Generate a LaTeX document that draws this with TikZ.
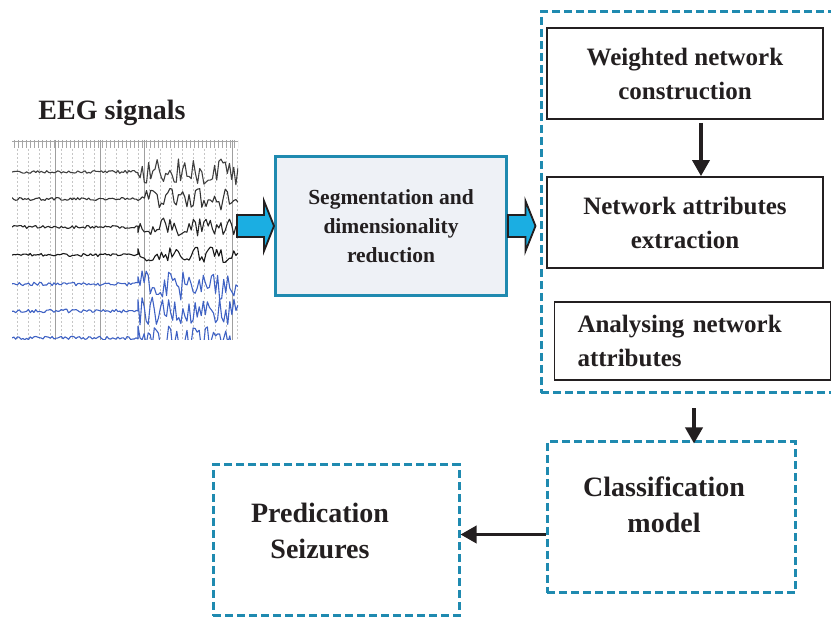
\documentclass[tikz,border=0pt]{standalone}
\usepackage{fontspec}
\setmainfont{Liberation Serif}
\usetikzlibrary{calc,arrows.meta}
\definecolor{tealc}{HTML}{1F8AB0}
\definecolor{txtc}{HTML}{231F20}
\definecolor{segfill}{HTML}{EEF1F6}
\definecolor{arrblue}{HTML}{1BAEE2}
\definecolor{eegblue}{HTML}{3F62C4}
\newcommand\fatarrow[2]{%
  \draw[fatarr] ($(#1)+(0,-11)$) -- ($(#2)+(-10,-11)$) -- ($(#2)+(-10,-25)$) -- (#2)
    -- ($(#2)+(-10,25)$) -- ($(#2)+(-10,11)$) -- ($(#1)+(0,11)$) -- cycle;}
\begin{document}
\begin{tikzpicture}[x=1pt,y=-1pt,
  txt/.style={inner sep=0pt, align=center, text=txtc, font=\bfseries\fontsize{25}{34}\selectfont},
  box/.style={txt, draw=txtc, line width=1.8pt, minimum width=276pt, minimum height=91pt},
  dbox/.style={draw=tealc, line width=3pt, dash pattern=on 8pt off 4pt, inner sep=0pt},
  blk/.style={line width=3.6pt, draw=txtc, -{Triangle[width=17pt,length=16pt]}},
  fatarr/.style={fill=arrblue, draw=txtc, line width=1.8pt, line join=miter},
  trace/.style={line width=1.1pt, line join=round},
]
\useasboundingbox (0,0) rectangle (831,617);

% EEG signals image
\node[txt, font=\bfseries\fontsize{28}{34}\selectfont, anchor=base] (eegtitle) at (112,120) {EEG signals};
\begin{scope}
  \clip (12,140) rectangle (238,340);
  \foreach \x in {17,28,...,238}
    \draw[gray!45, dash pattern=on 2pt off 2pt, line width=0.7pt] (\x,149) -- (\x,340);
  \foreach \x in {14,18,...,238}
    \draw[gray!70, line width=0.7pt] (\x,140) -- (\x,148);
  \draw[gray!70, line width=0.7pt] (12,141) -- (238,141);
  \foreach \x in {55,100,144,232}
    \draw[gray!75, line width=0.9pt] (\x,140) -- (\x,340);
  \pgfmathsetseed{11}
  \foreach \y/\a/\c in {172/13/black!75, 199/11/black!80, 227/9/black!85, 255/8/black!90}{
    \draw[trace, \c] plot[domain=12:138, samples=70] (\x,{\y+1.5*rand})
      -- plot[domain=138:238, samples=48] (\x,{\y+\a*rand});
  }
  \foreach \y/\a in {284/16, 311/14, 338/12}{
    \draw[trace, eegblue] plot[domain=12:138, samples=70] (\x,{\y+1.8*rand})
      -- plot[domain=138:238, samples=50] (\x,{\y+\a*rand});
  }
\end{scope}
\coordinate (eegR) at (237,226);

% segmentation box
\node[txt, draw=tealc, fill=segfill, line width=3pt, minimum width=231pt, minimum height=139pt,
      font=\bfseries\fontsize{21.5}{29}\selectfont] (seg) at (391,226)
      {Segmentation and\\dimensionality\\reduction};

% group dashed box (right side runs off the picture)
\node[dbox, minimum width=293pt, minimum height=381pt] (grp) at (687.5,202.5) {};

\node[box] (w) at (685,73.5) {Weighted network\\construction};
\node[box] (na) at (685,222.5) {Network attributes\\extraction};
\node[box, align=left, text width=230pt, inner xsep=23pt, minimum height=78pt] (an) at (692.5,341)
      {Analysing network\\attributes};

% classification and prediction
\node[dbox, minimum width=248pt, minimum height=151pt] (class) at (671,517.5) {};
\node[txt, font=\bfseries\fontsize{28}{36}\selectfont] (classt) at ($(class.center)+(-7,-13)$) {Classification\\model};
\node[dbox, minimum width=246pt, minimum height=151pt] (pred) at (336,540.5) {};
\node[txt, font=\bfseries\fontsize{28}{36}\selectfont] (predt) at ($(pred.center)+(-16,-10)$) {Predication\\Seizures};

% connectors
\fatarrow{eegR}{seg.west}
\coordinate (a2end) at ($(seg.east -| grp.west)+(-4,0)$);
\fatarrow{seg.east}{a2end}
\draw[blk] ($(w.south)+(16,3)$) -- ($(na.north)+(16,0)$);
\draw[blk] ($(grp.south)+(6.5,14)$) -- ($(class.north)+(23,3)$);
\path ($(class.west)+(0,17)$) coordinate (c3);
\draw[blk] (c3) -- (c3 -| pred.east);
\end{tikzpicture}
\end{document}
